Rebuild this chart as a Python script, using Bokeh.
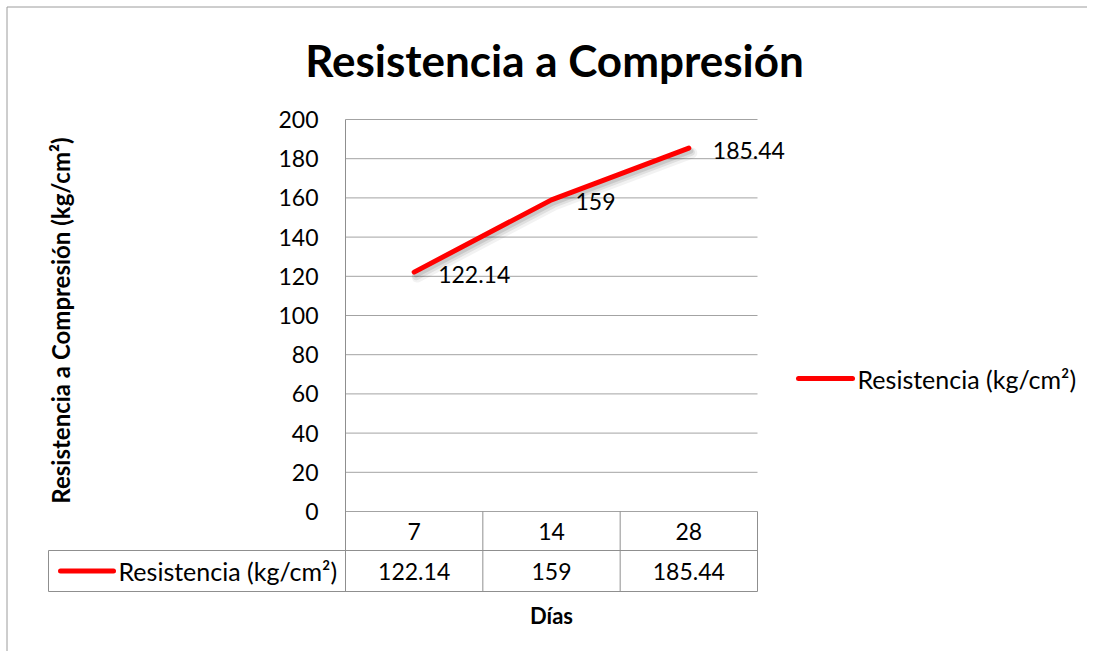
import math
from bokeh.plotting import figure
from bokeh.models import Range1d, ColumnDataSource
from bokeh.core.properties import value
from bokeh.embed import file_html
from bokeh.resources import INLINE

# ---- data ----
days = ["7", "14", "28"]
resistencia = [122.14, 159, 185.44]
value_labels = ["122.14", "159", "185.44"]
y_ticks = [0, 20, 40, 60, 80, 100, 120, 140, 160, 180, 200]
y_tick_labels = [str(t) for t in y_ticks]
chart_title = "Resistencia a Compresión"
y_title = "Resistencia a Compresión (kg/cm²)"
x_title = "Días"
series_name = "Resistencia (kg/cm²)"

# ---- layout (canvas pixels) ----
FONT = "Lato"
GRID = "#a3a3a3"
TABLE = "#8f8f8f"
BORDER = "#9c9c9c"
RED = "#ff0000"
W, H = 1087, 651
PL, PR, PT, PB = 345, 757, 119, 511          # plot area
YMAX = y_ticks[-1]
PX = (PR - PL) / len(days)                    # px per category
PY = (PB - PT) / YMAX                         # px per unit

p = figure(width=W, height=H, title=None,
           x_range=Range1d(-PL / PX, (W - PL) / PX),
           y_range=Range1d((PB - H) / PY, PB / PY),
           x_axis_location=None, y_axis_location=None,
           output_backend="svg", toolbar_location=None,
           min_border_left=0, min_border_right=0,
           min_border_top=0, min_border_bottom=0)
p.outline_line_color = None
p.grid.visible = False
p.background_fill_color = "white"
p.border_fill_color = "white"


def X(px):
    return (px - PL) / PX


def Y(py):
    return (PB - py) / PY


xpos = [i + 0.5 for i in range(len(days))]     # category centres
n = len(days)

# outer chart border (top & left)
p.segment(x0=[X(6.5), X(6.5)], y0=[Y(6.5), Y(6.5)], x1=[X(W), X(6.5)], y1=[Y(6.5), Y(H)],
          line_color=BORDER, line_width=1)

# horizontal gridlines
p.segment(x0=[0] * len(y_ticks), x1=[n] * len(y_ticks), y0=y_ticks, y1=y_ticks,
          line_color=GRID, line_width=1)

# data table rows
ROW1, ROW2 = 550, 591
TL = 48
p.segment(x0=[X(TL), X(TL)], x1=[n, n], y0=[Y(ROW1), Y(ROW2)], y1=[Y(ROW1), Y(ROW2)],
          line_color=TABLE, line_width=1)
# vertical lines: plot left edge through table, column separators, table left
p.segment(x0=[0], x1=[0], y0=[YMAX], y1=[Y(ROW2)], line_color=TABLE, line_width=1)
p.segment(x0=list(range(1, n + 1)), x1=list(range(1, n + 1)),
          y0=[0] * n, y1=[Y(ROW2)] * n, line_color=TABLE, line_width=1)
p.segment(x0=[X(TL)], x1=[X(TL)], y0=[Y(ROW1)], y1=[Y(ROW2)], line_color=TABLE, line_width=1)

# y tick labels
p.text(x=[X(318)] * len(y_ticks), y=y_ticks, text=y_tick_labels,
       text_align="right", text_baseline="middle",
       text_font=value(FONT), text_font_size=value("23px"), text_color="black")

# table header (days) and values
hy = (PB + ROW1) / 2
vy = (ROW1 + ROW2) / 2
p.text(x=xpos, y=[Y(hy)] * n, text=days, text_align="center", text_baseline="middle",
       text_font=value(FONT), text_font_size=value("23px"), text_color="black")
p.text(x=xpos, y=[Y(vy)] * n, text=value_labels, text_align="center", text_baseline="middle",
       text_font=value(FONT), text_font_size=value("23px"), text_color="black")

# series key in the table
p.line(x=[X(60), X(113)], y=[Y(vy), Y(vy)], line_color=RED, line_width=5, line_cap="round")
p.text(x=[X(118)], y=[Y(vy)], text=[series_name], text_align="left", text_baseline="middle",
       text_font=value(FONT), text_font_size=value("25px"), text_color="black")

# right legend
LY = 378
p.line(x=[X(798), X(852)], y=[Y(LY), Y(LY)], line_color=RED, line_width=5, line_cap="round")
p.text(x=[X(857)], y=[Y(LY)], text=[series_name], text_align="left", text_baseline="middle",
       text_font=value(FONT), text_font_size=value("25px"), text_color="black")

# data line with soft shadow
src = ColumnDataSource(dict(x=xpos, y=resistencia, lab=value_labels))
for dxp, dyp, w, a in [(3, 5, 11, 0.05), (2, 4, 8, 0.08), (2, 3, 5, 0.10)]:
    p.line(x=[v + dxp / PX for v in xpos], y=[v - dyp / PY for v in resistencia],
           line_width=w, line_color="black", line_alpha=a,
           line_cap="round", line_join="round")
p.line("x", "y", source=src, line_width=5, line_color=RED,
       line_cap="round", line_join="round")
p.text(x="x", y="y", text="lab", source=src, x_offset=24, y_offset=2,
       text_align="left", text_baseline="middle",
       text_font=value(FONT), text_font_size=value("23px"), text_color="black")

# titles
p.text(x=[X(554)], y=[Y(59)], text=[chart_title], text_align="center", text_baseline="middle",
       text_font=value(FONT), text_font_style="bold", text_font_size=value("44px"),
       text_color="black")
p.text(x=[X(60)], y=[Y(320)], text=[y_title], angle=math.pi / 2,
       text_align="center", text_baseline="middle",
       text_font=value(FONT), text_font_style="bold", text_font_size=value("24px"),
       text_color="black")
p.text(x=[X(551)], y=[Y(615)], text=[x_title], text_align="center", text_baseline="middle",
       text_font=value(FONT), text_font_style="bold", text_font_size=value("22px"),
       text_color="black")

open("out.html", "w").write(file_html(p, INLINE))
